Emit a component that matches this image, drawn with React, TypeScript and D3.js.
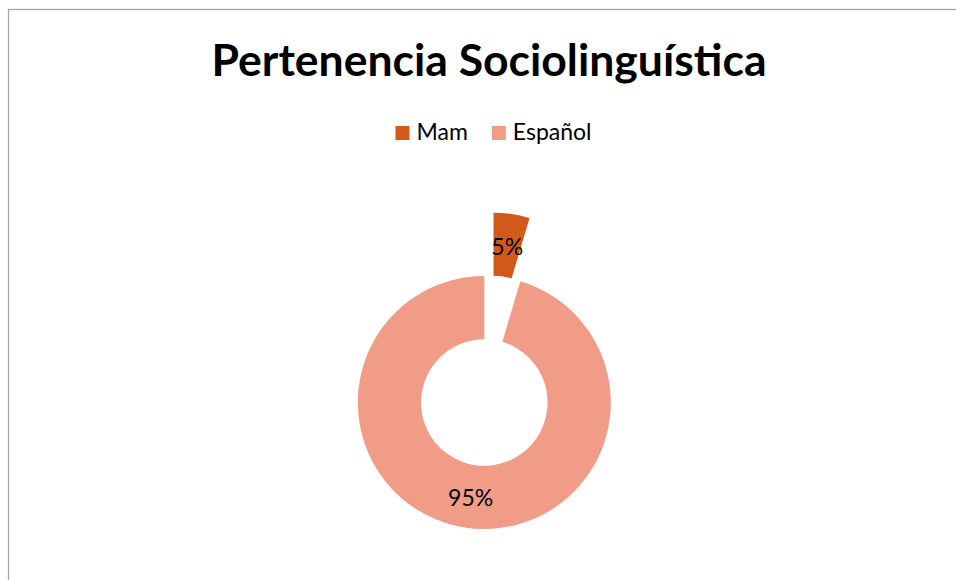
import { useEffect, useRef } from 'react'
import * as d3 from 'd3'

const TITLE = 'Pertenencia Sociolinguística'
const categories = ['Mam', 'Español']
const values = [4.6, 95.4]
const colors = ['#D15A1A', '#F09C87']

const FONT = 'Lato, "Open Sans", sans-serif'

export default function App() {
  const ref = useRef<SVGSVGElement>(null)

  useEffect(() => {
    if (!ref.current) return
    const svg = d3.select(ref.current)
    svg.selectAll('*').remove()

    // chart frame, runs off the right and bottom edge like the original
    svg.append('rect')
      .attr('x', 8.5).attr('y', 9.5)
      .attr('width', 1200).attr('height', 800)
      .attr('fill', '#fff')
      .attr('stroke', '#a6a6a6')
      .attr('stroke-width', 1.3)

    svg.append('text')
      .attr('x', 489).attr('y', 76)
      .attr('text-anchor', 'middle')
      .attr('font-family', FONT)
      .attr('font-weight', 700)
      .attr('font-size', 44.5)
      .attr('fill', '#000')
      .text(TITLE)

    // legend
    const legend = svg.append('g')
    let x = 0
    categories.forEach((c, i) => {
      legend.append('rect')
        .attr('x', x).attr('y', 126)
        .attr('width', 14).attr('height', 14)
        .attr('fill', colors[i])
      const t = legend.append('text')
        .attr('x', x + 21).attr('y', 140)
        .attr('font-family', FONT)
        .attr('font-size', 23)
        .attr('fill', '#000')
        .text(c)
      const w = (t.node() as SVGTextElement).getComputedTextLength()
      x += 21 + w + 24
    })
    const total = x - 24
    legend.attr('transform', `translate(${493.5 - total / 2},0)`)

    // doughnut
    const cx = 484.3
    const cy = 402.5
    const outer = 126.5
    const inner = 63.3
    const explode = 64

    const pie = d3.pie<number>().sort(null).value((d) => d)
    const arcs = pie(values)
    const arc = d3.arc<d3.PieArcDatum<number>>().innerRadius(inner).outerRadius(outer)
    const sum = d3.sum(values)

    const g = svg.append('g').attr('transform', `translate(${cx},${cy})`)

    arcs.forEach((a, i) => {
      const mid = (a.startAngle + a.endAngle) / 2
      const off = i === 0 ? explode : 0
      const dx = Math.sin(mid) * off
      const dy = -Math.cos(mid) * off
      const sg = g.append('g').attr('transform', `translate(${dx},${dy})`)
      sg.append('path').attr('d', arc(a) as string).attr('fill', colors[i])
      const [lx, ly] = arc.centroid(a)
      sg.append('text')
        .attr('x', lx).attr('y', ly + 1)
        .attr('text-anchor', 'middle')
        .attr('dominant-baseline', 'central')
        .attr('font-family', FONT)
        .attr('font-size', 23)
        .attr('fill', '#000')
        .text(`${Math.round((values[i] / sum) * 100)}%`)
    })
  }, [])

  return (
    <svg
      ref={ref}
      width={956}
      height={580}
      style={{ position: 'absolute', left: 0, top: 0, display: 'block' }}
    />
  )
}
